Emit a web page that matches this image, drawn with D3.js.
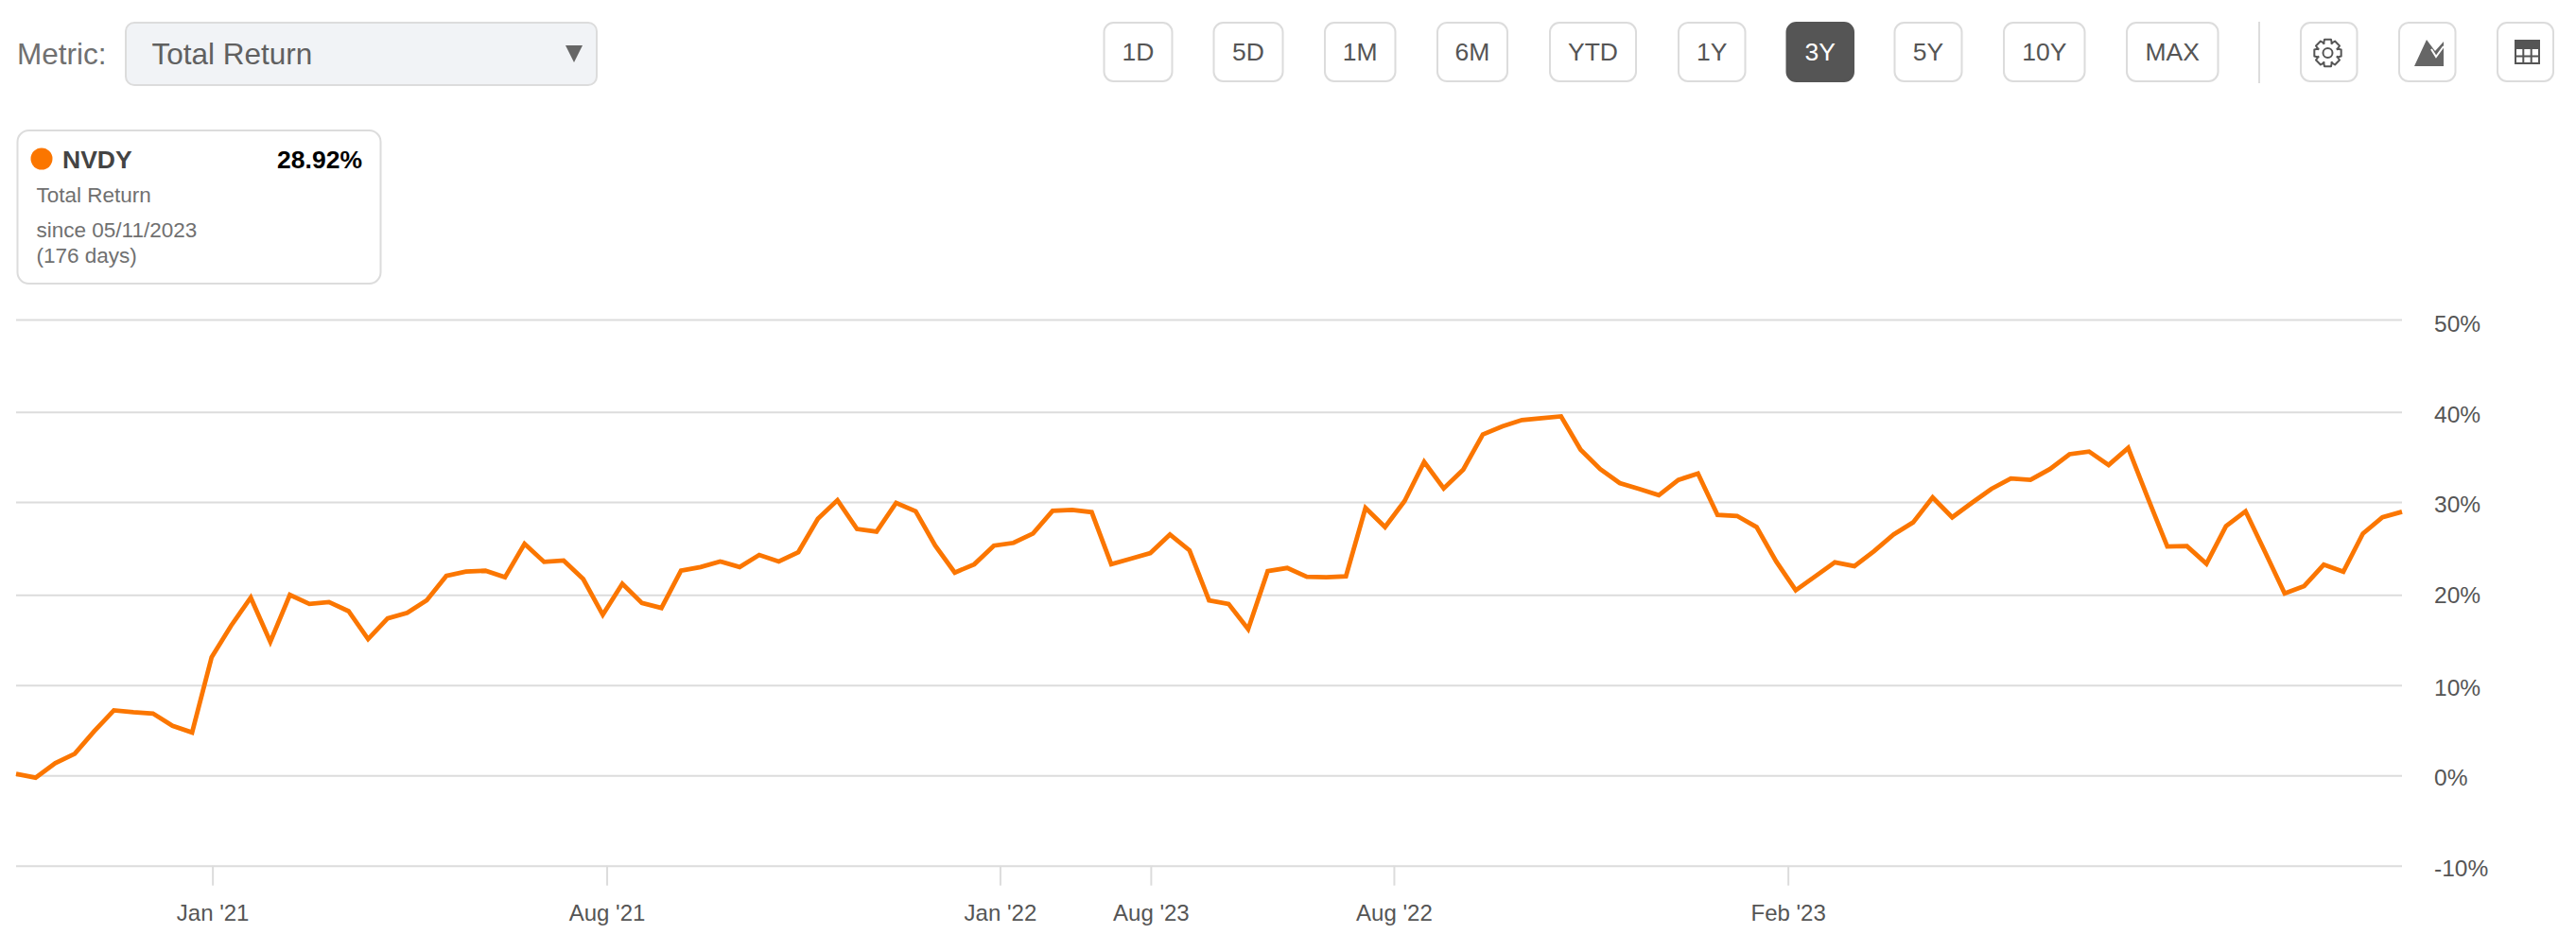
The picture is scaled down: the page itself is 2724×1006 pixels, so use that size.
<!DOCTYPE html>
<html><head><meta charset="utf-8">
<script src="https://cdnjs.cloudflare.com/ajax/libs/d3/7.8.5/d3.min.js"></script>
<style>html,body{margin:0;padding:0;background:#fff}svg{display:block}text{font-family:"Liberation Sans",Arial,sans-serif}</style>
</head><body><svg id="c" width="2724" height="1006"></svg>
<script>
// ---- chart data ----
const totalReturn = [0.17,-0.24,1.36,2.4,4.9,7.2,7.0,6.85,5.5,4.75,13.1,16.6,19.7,14.8,20,19.0,19.2,18.2,15.1,17.4,18.0,19.4,22.05,22.5,22.6,21.9,25.5,23.55,23.7,21.7,17.8,21.2,19.1,18.55,22.6,23.0,23.6,23.0,24.3,23.6,24.6,28.2,30.2,27.1,26.8,29.9,29.0,25.3,22.4,23.3,25.3,25.6,26.6,29.05,29.15,28.9,23.3,23.9,24.5,26.5,24.8,19.4,19.0,16.2,22.55,22.9,21.95,21.9,22.0,29.35,27.3,30.1,34.45,31.5,33.6,37.5,38.4,39.1,39.3,39.5,35.8,33.65,32.1,31.45,30.75,32.45,33.15,28.6,28.5,27.3,23.6,20.5,22.0,23.5,23.1,24.7,26.5,27.8,30.5,28.35,29.9,31.45,32.6,32.45,33.65,35.3,35.6,34.1,36.0,30.45,25.2,25.25,23.35,27.4,29.0,24.6,20.15,20.95,23.25,22.5,26.6,28.35,28.95];
const yTicks = [-10,0,10,20,30,40,50];
const xTickLabels = ["Jan '21","Aug '21","Jan '22","Aug '23","Aug '22","Feb '23"];
const xTickIndex = [10.04,30.2,50.31,58.02,70.45,90.6];
const rangeLabels = ["1D","5D","1M","6M","YTD","1Y","3Y","5Y","10Y","MAX"];
const activeRange = "3Y";
const seriesName = "NVDY", seriesValue = "28.92%", metricName = "Total Return";
const sinceLines = ["since 05/11/2023","(176 days)"];
// ---- layout ----
const rangeEdges = [[1166.5,1240.5],[1282.5,1357.5],[1400,1476.5],[1519,1595],[1638,1731],[1774,1846.5],[1888.5,1961],[2002.5,2075.5],[2118,2205.5],[2248,2346.5]];
const iconEdges = [[2432,2493.5],[2536,2597.5],[2640,2701]];
const gridRows = [915.7,820.3,724.7,629.3,531,435.7,338];
const TXT="#555", BORDER="#dcdcdc", ORANGE="#fb7600";
const svg=d3.select("#c");
const x=d3.scaleLinear().domain([0,totalReturn.length-1]).range([17,2540]);
const y=d3.scaleLinear().domain(yTicks).range(gridRows);

// axes
const gy=svg.append("g").attr("transform","translate(2540,0)")
  .call(d3.axisRight(y).tickValues(yTicks).tickSize(-2523).tickPadding(34).tickFormat(d=>d+"%"));
gy.select(".domain").remove();
gy.selectAll("line").attr("stroke",BORDER).attr("stroke-width",2);
gy.selectAll("text").attr("dy",null).attr("y",d=>d===50?12.5:d===20?8.5:10.5).attr("fill",TXT).style("font-size","24.5px").style("font-family",'"Liberation Sans"');
const gx=svg.append("g").attr("transform","translate(0,915.7)")
  .call(d3.axisBottom(x).tickValues(xTickIndex).tickSize(21).tickFormat((d,i)=>xTickLabels[i]));
gx.select(".domain").remove();
gx.selectAll("line").attr("stroke",BORDER).attr("stroke-width",2);
gx.selectAll("text").attr("dy",null).attr("y",58.5).attr("fill",TXT).style("font-size","24px").style("font-family",'"Liberation Sans"');

// series
svg.append("path").datum(totalReturn).attr("fill","none").attr("stroke",ORANGE).attr("stroke-width",4.8)
  .attr("stroke-linejoin","miter").attr("d",d3.line().x((d,i)=>x(i)).y(d=>y(d)));

// metric selector
svg.append("text").attr("x",18).attr("y",67.5).attr("fill","#707070").style("font-size","31.5px").text("Metric:");
svg.append("rect").attr("x",133).attr("y",24).attr("width",498).attr("height",66).attr("rx",9)
  .attr("fill","#f1f3f6").attr("stroke",BORDER).attr("stroke-width",2);
svg.append("text").attr("x",160.5).attr("y",67.5).attr("fill","#606060").style("font-size","31.5px").text(metricName);
svg.append("path").attr("d","M598 48H616L607 66Z").attr("fill","#666");

// legend card
svg.append("rect").attr("x",18.5).attr("y",138).attr("width",384).attr("height",162).attr("rx",12)
  .attr("fill","#fff").attr("stroke",BORDER).attr("stroke-width",2);
svg.append("circle").attr("cx",44).attr("cy",168).attr("r",11.5).attr("fill",ORANGE);
svg.append("text").attr("x",66).attr("y",178).attr("fill","#444").style("font-size","26.5px").style("font-weight","700").text(seriesName);
svg.append("text").attr("x",383).attr("y",178).attr("text-anchor","end").attr("fill","#000").style("font-size","26.5px").style("font-weight","700").text(seriesValue);
svg.append("text").attr("x",38.5).attr("y",214).attr("fill","#707070").style("font-size","22.5px").text(metricName);
svg.selectAll(".since").data(sinceLines).join("text").attr("class","since").attr("x",38.5)
  .attr("y",(d,i)=>250.5+i*27).attr("fill","#707070").style("font-size","22.5px").text(d=>d);

// range buttons
const btn=svg.selectAll(".rb").data(rangeLabels).join("g").attr("class","rb");
btn.append("rect").attr("x",(d,i)=>rangeEdges[i][0]+1).attr("y",24).attr("width",(d,i)=>rangeEdges[i][1]-rangeEdges[i][0]-2).attr("height",62)
  .attr("rx",10).attr("fill",d=>d===activeRange?"#555":"#fff").attr("stroke",d=>d===activeRange?"#555":BORDER).attr("stroke-width",2);
btn.append("text").attr("x",(d,i)=>(rangeEdges[i][0]+rangeEdges[i][1])/2).attr("y",64).attr("text-anchor","middle")
  .attr("fill",d=>d===activeRange?"#fff":TXT).style("font-size","26.5px").text(d=>d);
svg.append("line").attr("x1",2389).attr("x2",2389).attr("y1",23).attr("y2",88).attr("stroke",BORDER).attr("stroke-width",2);
svg.selectAll(".ib").data(iconEdges).join("rect").attr("class","ib").attr("x",d=>d[0]+1).attr("y",24).attr("width",d=>d[1]-d[0]-2).attr("height",62)
  .attr("rx",10).attr("fill","#fff").attr("stroke",BORDER).attr("stroke-width",2);

// gear icon
const gearPts=[];const cx=2461.5,cy=56;
for(let k=0;k<8;k++){const a=k*Math.PI/4-Math.PI/2;
  [[-.42,10.8],[-.24,14.6],[.24,14.6],[.42,10.8]].forEach(([da,r])=>gearPts.push([cx+r*Math.cos(a+da),cy+r*Math.sin(a+da)]));}
svg.append("path").attr("d",d3.line().curve(d3.curveLinearClosed)(gearPts)).attr("fill","none").attr("stroke","#555").attr("stroke-width",2).attr("stroke-linejoin","round");
svg.append("circle").attr("cx",cx).attr("cy",cy).attr("r",5).attr("fill","none").attr("stroke","#555").attr("stroke-width",2);
// area icon
svg.append("path").attr("d","M2553 70L2566 42L2575 54L2584 44V70Z").attr("fill","#666");
svg.append("path").attr("d","M2571 52L2576 60L2584 49").attr("fill","none").attr("stroke","#fff").attr("stroke-width",2);
// table icon
svg.append("rect").attr("x",2659).attr("y",42).attr("width",27).attr("height",10).attr("fill","#555");
svg.append("path").attr("d","M2660 52V67H2685V52M2660 59.5H2685M2668.3 52V67M2676.7 52V67").attr("fill","none").attr("stroke","#555").attr("stroke-width",2);
</script></body></html>
